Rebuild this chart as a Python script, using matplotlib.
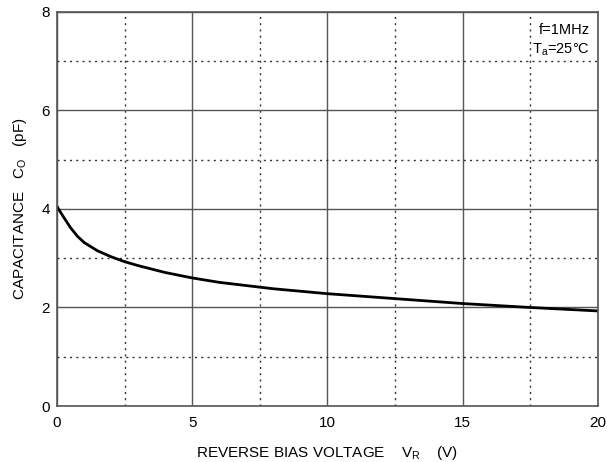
import matplotlib
matplotlib.use("Agg")
import matplotlib.pyplot as plt
import numpy as np

plt.rcParams['font.family'] = ['Liberation Sans', 'DejaVu Sans']

voltage = [0, 0.1, 0.25, 0.5, 0.75, 1.0, 1.5, 2.0, 2.5, 3, 4, 5, 6, 8, 10, 12, 15, 17.5, 20]
capacitance = [4.05, 3.96, 3.83, 3.62, 3.45, 3.32, 3.15, 3.03, 2.93, 2.85, 2.71, 2.60, 2.51, 2.38, 2.28, 2.20, 2.08, 2.00, 1.93]

x_major = [0, 5, 10, 15, 20]
y_major = [0, 2, 4, 6, 8]

fig = plt.figure(figsize=(6.07, 4.62), dpi=100)
ax = fig.add_axes([0.0939, 0.1212, 0.891, 0.853])

ax.plot(voltage, capacitance, color='black', lw=2.0, solid_capstyle='round', solid_joinstyle='round')

ax.set_xlim(0, 20)
ax.set_ylim(0, 8)
ax.set_xticks(x_major)
ax.set_yticks(y_major)
ax.set_xticks([2.5, 7.5, 12.5, 17.5], minor=True)
ax.set_yticks([1, 3, 5, 7], minor=True)
ax.grid(which='major', color='#555555', lw=1.0, ls='-')
ax.grid(which='minor', color='#333333', lw=1.0, ls=(0, (1.5, 3)))
ax.tick_params(which='both', length=0, labelsize=11)
ax.tick_params(axis='x', pad=7)
ax.tick_params(axis='y', pad=5)
for s in ax.spines.values():
    s.set_color('#555555')
    s.set_linewidth(1.2)

ax.set_xlabel('REVERSE BIAS VOLTAGE    V$_\\mathregular{R}$    (V)', fontsize=11, labelpad=10)
ax.set_ylabel('CAPACITANCE   C$_\\mathregular{O}$   (pF)', fontsize=11, labelpad=9)

ax.text(0.985, 0.955, 'f=1MHz', transform=ax.transAxes, ha='right', va='center', fontsize=10.5)
ax.text(0.985, 0.905, 'T$_\\mathregular{a}$=25°C', transform=ax.transAxes, ha='right', va='center', fontsize=10.5)

fig.savefig('out.png', dpi=100)
